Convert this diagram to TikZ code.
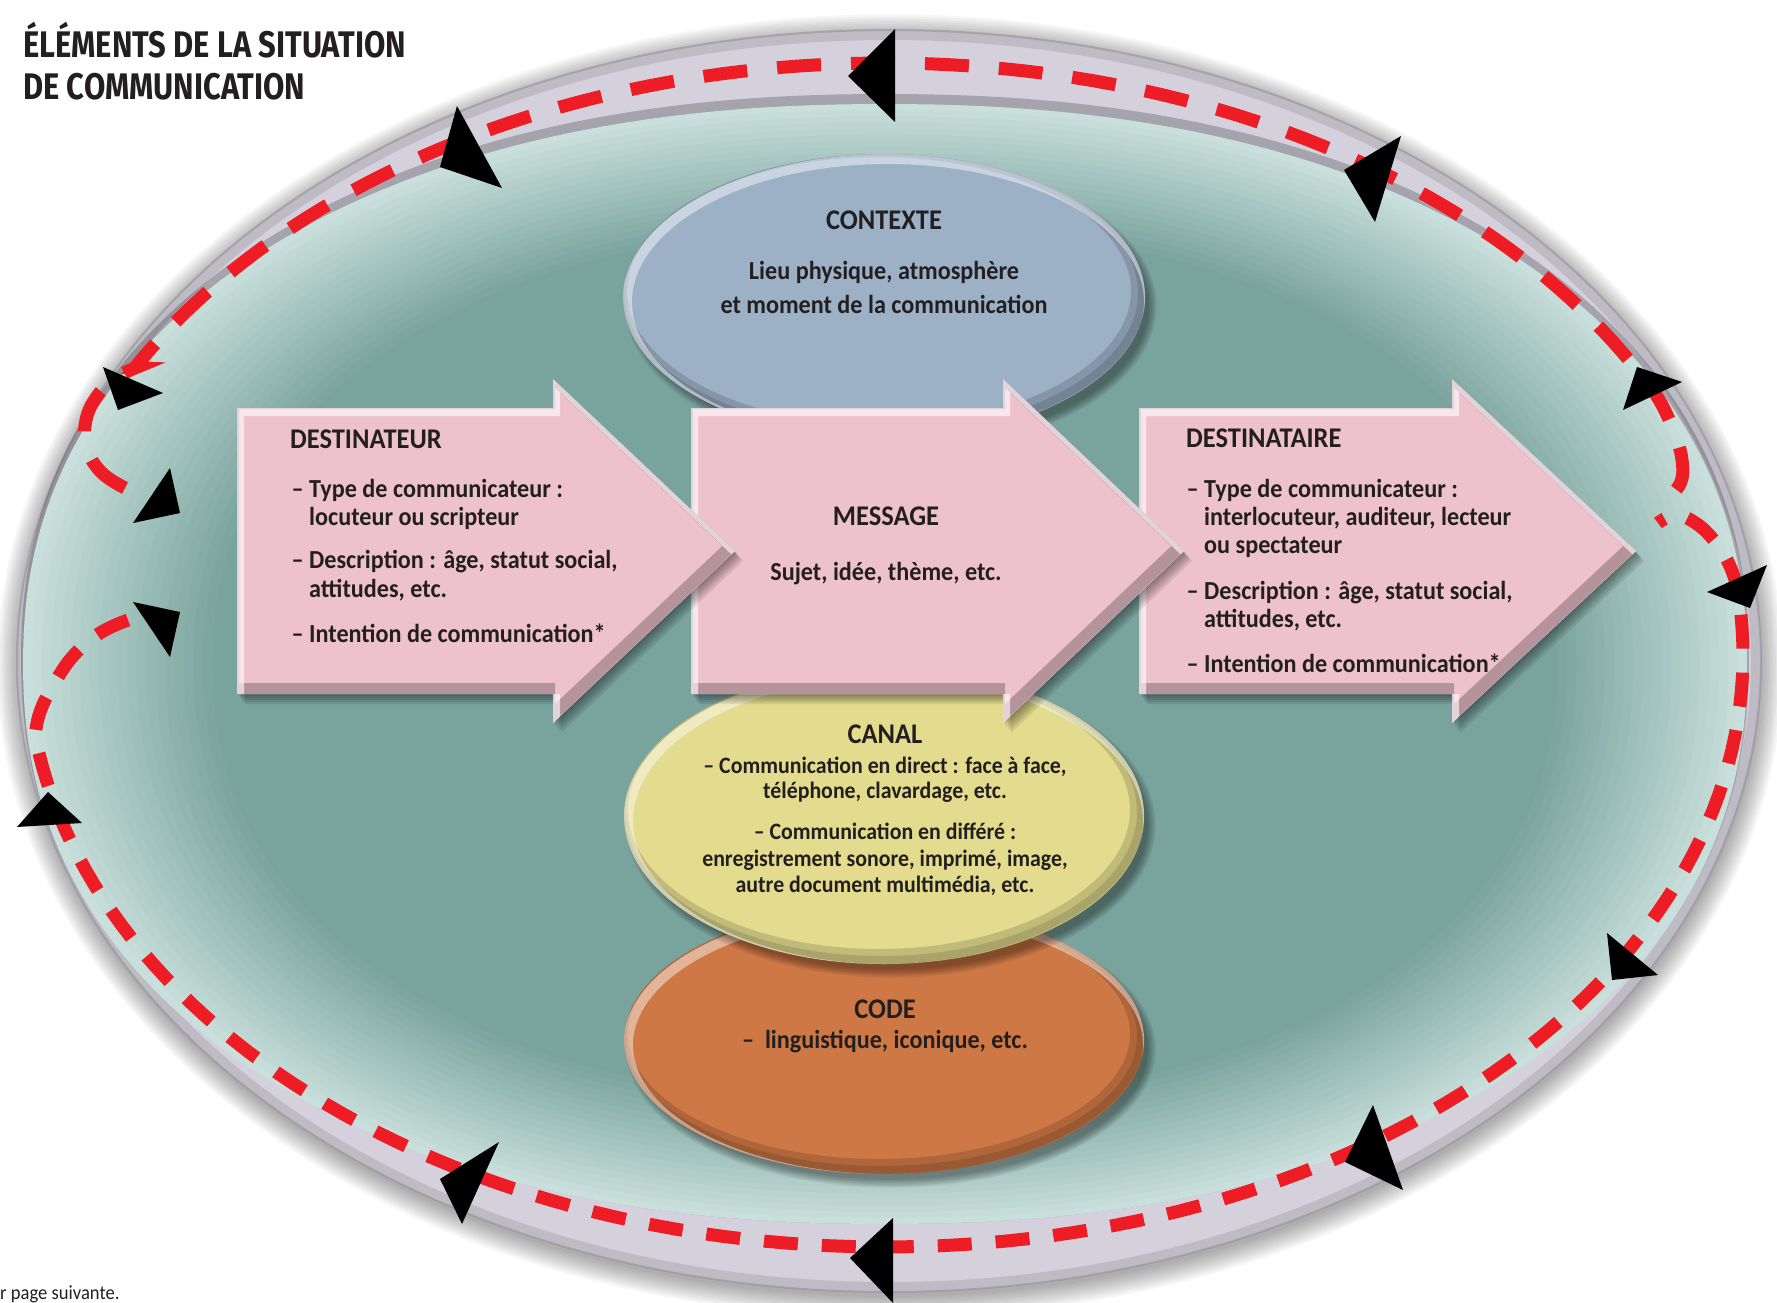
\documentclass[tikz,border=0pt]{standalone}
\usepackage{fontspec}
\setmainfont{Carlito}[FakeStretch=0.93]
\newfontfamily\titlefont{Fira Sans}[FakeStretch=0.835]
\usetikzlibrary{shapes.geometric}
\definecolor{redc}{HTML}{EE1D25}
\definecolor{pinkc}{HTML}{EDC2CD}
\definecolor{ctxc}{HTML}{9CB1C6}
\definecolor{canc}{HTML}{E3DC8F}
\definecolor{codc}{HTML}{CE7845}
\definecolor{tealD}{HTML}{79A39D}
\definecolor{tealL}{HTML}{C9DFDB}
\definecolor{ringc}{HTML}{D4D1DC}
\definecolor{txtc}{HTML}{231F20}
\newcommand\bodyf{\fontsize{26}{29}\selectfont\bfseries}
\newcommand\headf{\fontsize{28.5}{31}\selectfont\bfseries}
\newcommand\canf{\fontsize{23.5}{26}\selectfont\bfseries}
\newcommand\ellshadow[4]{\foreach \k in {1,...,6}{\fill[black,opacity=0.07] (#1+7,#2+9) ellipse[x radius=#3+\k*1.6-5, y radius=#4+\k*1.6-5];}}
\newcommand\bevel[4]{%
  \begin{scope}
    \clip (#1,#2) ellipse[x radius=#3, y radius=#4];
    \draw[black,opacity=0.15,line width=18] (#1-5,#2-6) ellipse[x radius=#3, y radius=#4];
    \draw[black,opacity=0.12,line width=8] (#1-3,#2-4) ellipse[x radius=#3, y radius=#4];
    \draw[white,opacity=0.45,line width=10] (#1+4,#2+5) ellipse[x radius=#3, y radius=#4];
  \end{scope}}
\newcommand\arrowshape[3]{(#1,408) -- (#2,408) -- (#2,379) -- (#3,551) -- (#2,723) -- (#2,694) -- (#1,694) -- cycle}
\newcommand\pinkarrow[3]{%
  \foreach \s in {2,4,6,8,10}{\fill[black,opacity=0.09,shift={(\s*0.8,\s)}] \arrowshape{#1}{#2}{#3};}
  \fill[pinkc] \arrowshape{#1}{#2}{#3};
  \begin{scope}
    \clip \arrowshape{#1}{#2}{#3};
    \draw[black,opacity=0.24,line width=12,line join=miter,shift={(-4,-5)}] \arrowshape{#1}{#2}{#3};
    \draw[white,opacity=0.6,line width=8,line join=miter,shift={(3,4)}] \arrowshape{#1}{#2}{#3};
  \end{scope}}
% superellipse (exponent 2/n = 0.91)
\newcommand\supell[4]{plot[domain=0.5:359.5, samples=240] ({#1+#3*cos(\x)*abs(cos(\x))^(-0.09)}, {#2+#4*sin(\x)*abs(sin(\x))^(-0.09)}) -- cycle}
\tikzset{
  txt/.style={text=txtc, inner sep=0},
  reddashT/.style={draw=redc, line width=13, dash pattern=on 44 off 30},
  reddashB/.style={draw=redc, line width=13, dash pattern=on 34 off 24},
  tri/.style={fill=black},
  blob/.style={ellipse, inner sep=0},
  titlef/.style={text=txtc, inner sep=0, font=\titlefont\bfseries\fontsize{37}{42}\selectfont},
}
\begin{document}
\begin{tikzpicture}[x=1pt,y=-1pt]
\useasboundingbox[fill=white] (0,0) rectangle (1777,1303);
% ring
\foreach \k in {0,...,9}{\fill[black,opacity=0.035] (890,666) ellipse[x radius=872+\k*2.3, y radius=631+\k*2.3];}
\fill[ringc] (889,661) ellipse[x radius=872, y radius=631];
\draw[black,opacity=0.10,line width=10] (889,661) ellipse[x radius=867, y radius=626];
\draw[ringc!70!black,line width=2,opacity=0.6] (889,661) ellipse[x radius=872, y radius=631];
\fill[black,opacity=0.22] \supell{885}{659}{864}{565};
% teal with light rim (layered)
\foreach \k in {0,...,20}{%
  \pgfmathsetmacro\mix{100*\k/20}%
  \pgfmathsetmacro\sc{1-0.011*\k}%
  \fill[tealD!\mix!tealL] \supell{885}{664}{862*\sc}{560*\sc};}
% ellipses
\ellshadow{884}{1040}{260}{134}
\node[blob, fill=codc, minimum width=520, minimum height=268] (code) at (884,1040) {};
\bevel{884}{1040}{260}{134}
\ellshadow{884}{816}{260}{148}
\node[blob, fill=canc, minimum width=520, minimum height=296] (canal) at (884,816) {};
\bevel{884}{816}{260}{148}
\ellshadow{884}{297}{261}{143}
\node[blob, fill=ctxc, minimum width=522, minimum height=286] (contexte) at (884,297) {};
\bevel{884}{297}{261}{143}
% arrows
\pinkarrow{1139}{1452}{1636}
\pinkarrow{691}{1003}{1184}
\pinkarrow{237}{553}{735}
% texts
\node[txt, anchor=base] (ctxh) at (884,229) {\headf CONTEXTE};
\node[txt, anchor=base] (ctx1) at (884,279) {\bodyf Lieu physique, atmosphère};
\node[txt, anchor=base] (ctx2) at (884,313) {\bodyf et moment de la communication};
\node[txt, anchor=base west] (dsth) at (290,448) {\headf DESTINATEUR};
\node[txt, anchor=base west] (dst1) at (309,497) {\bodyf\llap{– }Type de communicateur :};
\node[txt, anchor=base west] (dst2) at (309,525) {\bodyf locuteur ou scripteur};
\node[txt, anchor=base west] (dst3) at (309,568) {\bodyf\llap{– }Description : âge, statut social,};
\node[txt, anchor=base west] (dst4) at (309,597) {\bodyf attitudes, etc.};
\node[txt, anchor=base west] (dst5) at (309,642) {\bodyf\llap{– }Intention de communication*};
\node[txt, anchor=base] (msgh) at (886,525) {\headf MESSAGE};
\node[txt, anchor=base] (msg1) at (886,580) {\bodyf Sujet, idée, thème, etc.};
\node[txt, anchor=base west] (dtah) at (1186,447) {\headf DESTINATAIRE};
\node[txt, anchor=base west] (dta1) at (1204,497) {\bodyf\llap{– }Type de communicateur :};
\node[txt, anchor=base west] (dta2) at (1204,525) {\bodyf interlocuteur, auditeur, lecteur};
\node[txt, anchor=base west] (dta3) at (1204,553) {\bodyf ou spectateur};
\node[txt, anchor=base west] (dta4) at (1204,599) {\bodyf\llap{– }Description : âge, statut social,};
\node[txt, anchor=base west] (dta5) at (1204,627) {\bodyf attitudes, etc.};
\node[txt, anchor=base west] (dta6) at (1204,672) {\bodyf\llap{– }Intention de communication*};
\node[txt, anchor=base] (canh) at (885,743) {\headf CANAL};
\node[txt, anchor=base] (can1) at (885,773) {\canf – Communication en direct : face à face,};
\node[txt, anchor=base] (can2) at (885,798) {\canf téléphone, clavardage, etc.};
\node[txt, anchor=base] (can3) at (885,839) {\canf – Communication en différé :};
\node[txt, anchor=base] (can4) at (885,866) {\canf enregistrement sonore, imprimé, image,};
\node[txt, anchor=base] (can5) at (885,892) {\canf autre document multimédia, etc.};
\node[txt, anchor=base] (codh) at (885,1018) {\headf CODE};
\node[txt, anchor=base] (cod1) at (885,1048) {\bodyf –\ \ linguistique, iconique, etc.};
% red dashed loops
\draw[reddashT] plot[smooth, tension=0.7] coordinates {(125,488) (101,472) (87,448) (86,420) (98,395) (116,378) (135,368)}
  -- plot[domain=0:124, samples=100] ({885+858*cos(209+\x)}, {655+592*sin(209+\x)})
  -- plot[smooth, tension=0.7] coordinates {(1650,386) (1662,405) (1674,432) (1682,460) (1680,484) (1663,502)};
\draw[reddashB] plot[smooth, tension=0.7] coordinates {(128,620) (100,633) (74,655) (54,684) (40,712) (35,737)}
  -- plot[domain=0:176, samples=120] ({885+858*cos(172-\x)}, {655+592*sin(172-\x)})
  -- plot[smooth, tension=0.7] coordinates {(1741,614) (1737,587) (1727,560) (1712,538) (1694,522) (1675,515) (1658,523)};
% arrowheads
\fill[tri] (895,29) -- (848,76) -- (895,122) -- cycle;
\fill[tri] (457,106) -- (440,167) -- (502,188) -- cycle;
\fill[tri] (1401,136) -- (1344,170) -- (1375,222) -- cycle;
\fill[tri] (1637,367) -- (1682,382) -- (1623,410) -- cycle;
\fill[tri] (1767,565) -- (1707,592) -- (1750,608) -- cycle;
\fill[tri] (1607,933) -- (1658,975) -- (1612,980) -- cycle;
\fill[tri] (1373,1105) -- (1345,1162) -- (1403,1190) -- cycle;
\fill[tri] (893,1218) -- (850,1258) -- (893,1303) -- cycle;
\fill[tri] (499,1142) -- (440,1179) -- (462,1224) -- cycle;
\fill[tri] (48,792) -- (82,823) -- (17,827) -- cycle;
\fill[tri] (133,602) -- (180,612) -- (170,657) -- cycle;
\fill[tri] (170,468) -- (180,513) -- (133,523) -- cycle;
\fill[tri] (103,367) -- (163,393) -- (118,410) -- cycle;
% title & footer
\node[titlef, anchor=base west] (title1) at (23,58) {ÉLÉMENTS DE LA SITUATION};
\node[titlef, anchor=base west] (title2) at (23,100) {DE COMMUNICATION};
\node[txt, anchor=base west] (foot) at (0,1299) {\fontsize{20}{22}\selectfont r page suivante.};
\end{tikzpicture}
\end{document}
